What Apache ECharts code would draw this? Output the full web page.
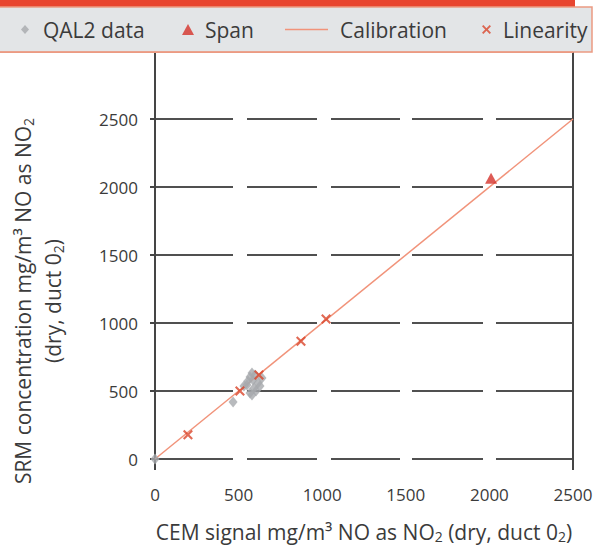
<!DOCTYPE html>
<html>
<head>
<meta charset="utf-8">
<script src="https://cdn.jsdelivr.net/npm/echarts@6/dist/echarts.min.js"></script>
<style>html,body{margin:0;padding:0;background:#fff;}#chart{width:595px;height:549px;}</style>
</head>
<body>
<div id="chart"></div>
<script>
// ---- data ----
const seriesNames = ['QAL2 data', 'Span', 'Calibration', 'Linearity'];
const qal2Data = [[0,0],[467,419],[532,537],[550,544],[556,574],[568,603],[580,632],[598,618],[568,485],[580,471],[592,522],[616,559],[640,596],[586,581],[604,500],[628,537]];
const spanData = [[2010,2065]];
const calibrationData = [[0,0],[2500,2500]];
const linearityData = [[197,178],[508,500],[622,618],[873,866],[1023,1030]];
const axisMax = 3000;
const tickStep = 500;
const xAxisName = 'CEM signal mg/m³ NO as NO{sub|2} (dry, duct 0{sub|2})';
const yAxisNameLines = ['SRM concentration mg/m³ NO as NO{sub|2}', '(dry, duct 0{sub|2})'];

const FONT = '"Open Sans", "Noto Sans", sans-serif';
const TXT = '#3b3b3b';
const crossPath = 'path://M1.5,0L5,3.5L8.5,0L10,1.5L6.5,5L10,8.5L8.5,10L5,6.5L1.5,10L0,8.5L3.5,5L0,1.5Z';
const linePath = 'path://M0,0H40V1.5H0Z';

const chart = echarts.init(document.getElementById('chart'), null, {renderer: 'svg'});

function legendAt(name, left, itemWidth, itemHeight, icon, extraPad) {
  return {
    data: [{name: name, icon: icon}], left: left, top: 19, padding: 0, selectedMode: false,
    itemWidth: itemWidth, itemHeight: itemHeight, z: 30, symbolKeepAspect: false,
    textStyle: {fontFamily: FONT, fontSize: 21, color: TXT, lineHeight: 20, padding: [0,0,0,extraPad || 0]}
  };
}

const subRich = {sub: {fontFamily: FONT, fontSize: 14, color: TXT, padding: [8,0,0,0]}};

chart.setOption({
  backgroundColor: '#ffffff',
  animation: false,
  grid: {left: 155, right: 22, top: 51, bottom: 90, containLabel: false, outerBoundsMode: 'none'},
  legend: [
    legendAt(seriesNames[0], 21, 8, 9, 'diamond', 9),
    legendAt(seriesNames[1], 182, 12, 11, 'triangle', 6),
    legendAt(seriesNames[2], 285, 43, 1.5, linePath, 7),
    legendAt(seriesNames[3], 482, 9, 9, crossPath, 7)
  ],
  xAxis: {
    type: 'value', min: 0, max: 2500, interval: tickStep,
    axisLine: {show: true, lineStyle: {color: '#454545', width: 2, opacity: 0}},
    axisTick: {show: true, customValues: [0, 2500], length: 11, lineStyle: {color: '#454545', width: 2, opacity: 1}},
    axisLabel: {fontFamily: FONT, fontSize: 17, color: TXT, margin: 27,
      formatter: function (v) { return String(v); }},
    splitLine: {show: false},
    name: xAxisName, nameLocation: 'middle', nameGap: 62,
    nameTextStyle: {fontFamily: FONT, fontSize: 21, color: TXT, rich: subRich}
  },
  yAxis: [{
    type: 'value', min: 0, max: axisMax, interval: tickStep,
    axisLine: {show: true, lineStyle: {color: '#454545', width: 2}},
    axisTick: {show: true, length: 5, lineStyle: {color: '#454545', width: 2}},
    axisLabel: {fontFamily: FONT, fontSize: 17, color: TXT, margin: 17,
      formatter: function (v) { return v > 2500 ? '' : String(v); }},
    splitLine: {show: true, lineStyle: {color: '#505050', width: 2, type: [78,14,70,14,69,12,71,13,80]}}
  }, {
    type: 'value', min: 0, max: axisMax, interval: tickStep, position: 'right',
    axisLine: {show: true, lineStyle: {color: '#454545', width: 2}},
    axisTick: {show: false}, axisLabel: {show: false}, splitLine: {show: false}
  }],
  graphic: [
    {type: 'rect', z: 20, shape: {x: 0, y: 0, width: 575, height: 7}, style: {fill: '#e8452f'}},
    {type: 'rect', z: 20, shape: {x: -2, y: 7, width: 594, height: 45}, style: {fill: '#e3e5e7', stroke: '#ec9a82', lineWidth: 1.5}},
    {type: 'rect', z: 21, shape: {x: 0, y: 51.5, width: 573, height: 1.5}, style: {fill: '#ec9a82'}},
    {type: 'text', z: 20, x: 38, y: 301, rotation: Math.PI / 2,
      style: {text: yAxisNameLines.join('\n'), fontFamily: FONT, fontSize: 21, fill: TXT, lineHeight: 30,
        align: 'center', verticalAlign: 'middle', rich: {sub: {fontFamily: FONT, fontSize: 14, fill: TXT, padding: [10,0,0,0]}}}}
  ],
  series: [
    {name: seriesNames[0], type: 'scatter', data: qal2Data, symbol: 'diamond', symbolSize: [9, 11],
      itemStyle: {color: '#a6a9ac'}, z: 3},
    {name: seriesNames[1], type: 'scatter', data: spanData, symbol: 'triangle', symbolSize: [12, 11],
      itemStyle: {color: '#d5322a'}, z: 4},
    {name: seriesNames[2], type: 'line', data: calibrationData, symbol: 'none',
      lineStyle: {color: '#f1937a', width: 1.5}, itemStyle: {color: '#f1937a'}, z: 2},
    {name: seriesNames[3], type: 'scatter', data: linearityData, symbol: crossPath, symbolSize: 10,
      itemStyle: {color: '#d9452b'}, z: 5}
  ]
});
</script>
</body>
</html>
